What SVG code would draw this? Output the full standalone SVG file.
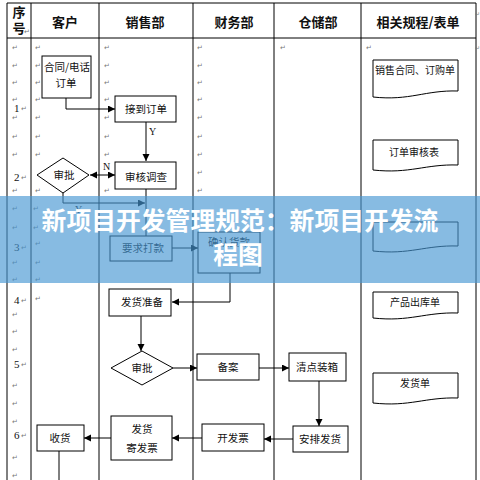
<svg xmlns="http://www.w3.org/2000/svg" width="480" height="480" viewBox="0 0 480 480">
<style>
.grid{stroke:#000;stroke-width:1;fill:none}
.hd{font-family:"Noto Sans CJK SC",sans-serif;font-size:13px;font-weight:bold;fill:#111;text-anchor:middle}
.bx{fill:#fff;stroke:#000;stroke-width:1}
.t{font-family:"Noto Sans CJK SC",sans-serif;font-size:10.5px;fill:#111;text-anchor:middle}
.doc{fill:#fff;stroke:#000;stroke-width:1}
.pm{font-family:"DejaVu Sans",sans-serif;font-size:7px;fill:#777}
.num{font-family:"Liberation Serif",serif;font-size:11px;fill:#111}
.lb{font-family:"Liberation Serif",serif;font-size:10px;fill:#111}
.cn{stroke:#000;stroke-width:1;fill:none}
.title{font-family:"Noto Sans CJK SC",sans-serif;font-size:24.8px;font-weight:bold;fill:#fff;text-anchor:middle}
</style>
<defs>
<marker id="ah" markerUnits="userSpaceOnUse" markerWidth="8" markerHeight="8" refX="7" refY="3.5" orient="auto-start-reverse">
<path d="M0,0 L7,3.5 L0,7 Z" fill="#000"/>
</marker>
</defs>
<rect width="480" height="480" fill="#fff"/>
<g id="table">
<path class="grid" d="M7,3 H476 M7,38 H476 M7,3 V480 M31,3 V480 M99,3 V480 M193,3 V480 M274,3 V480 M361,3 V480 M476,3 V480"/>
<text class="hd" x="19" y="17">序</text>
<text class="hd" x="19" y="33">号</text>
<text class="hd" x="65" y="27">客户</text>
<text class="hd" x="145" y="27">销售部</text>
<text class="hd" x="234" y="27">财务部</text>
<text class="hd" x="318" y="27">仓储部</text>
<text class="hd" x="418" y="27">相关规程/表单</text>
<text class="num" x="14" y="112">1</text>
<text class="num" x="14" y="181">2</text>
<text class="num" x="14" y="251">3</text>
<text class="num" x="14" y="304">4</text>
<text class="num" x="14" y="368">5</text>
<text class="num" x="14" y="439">6</text>
</g>
<g id="marks">
<text class="pm" x="12" y="50">↵</text><text class="pm" x="12" y="68">↵</text><text class="pm" x="12" y="85">↵</text><text class="pm" x="12" y="102">↵</text><text class="pm" x="12" y="120">↵</text><text class="pm" x="12" y="139">↵</text><text class="pm" x="12" y="157">↵</text><text class="pm" x="12" y="193">↵</text><text class="pm" x="12" y="211">↵</text><text class="pm" x="12" y="230">↵</text><text class="pm" x="12" y="265">↵</text><text class="pm" x="12" y="282">↵</text><text class="pm" x="12" y="317">↵</text><text class="pm" x="12" y="334">↵</text><text class="pm" x="12" y="352">↵</text><text class="pm" x="12" y="388">↵</text><text class="pm" x="12" y="406">↵</text><text class="pm" x="12" y="424">↵</text><text class="pm" x="12" y="460">↵</text><text class="pm" x="12" y="478">↵</text>
<text class="pm" x="21" y="111">↵</text><text class="pm" x="21" y="180">↵</text><text class="pm" x="21" y="250">↵</text><text class="pm" x="21" y="303">↵</text><text class="pm" x="21" y="367">↵</text><text class="pm" x="21" y="438">↵</text><text class="pm" x="24" y="34">↵</text>
<text class="pm" x="35" y="50">↵</text><text class="pm" x="35" y="68">↵</text><text class="pm" x="35" y="85">↵</text><text class="pm" x="35" y="102">↵</text><text class="pm" x="35" y="120">↵</text><text class="pm" x="35" y="139">↵</text><text class="pm" x="35" y="157">↵</text><text class="pm" x="35" y="193">↵</text><text class="pm" x="33" y="211">↵</text><text class="pm" x="33" y="230">↵</text><text class="pm" x="35" y="246">↵</text><text class="pm" x="35" y="265">↵</text><text class="pm" x="35" y="282">↵</text><text class="pm" x="35" y="301">↵</text>
<text class="pm" x="104" y="50">↵</text><text class="pm" x="104" y="68">↵</text><text class="pm" x="104" y="85">↵</text><text class="pm" x="104" y="102">↵</text><text class="pm" x="104" y="120">↵</text><text class="pm" x="104" y="139">↵</text><text class="pm" x="104" y="157">↵</text><text class="pm" x="104" y="193">↵</text>
<text class="pm" x="197" y="50">↵</text><text class="pm" x="197" y="68">↵</text><text class="pm" x="197" y="85">↵</text><text class="pm" x="197" y="102">↵</text><text class="pm" x="197" y="120">↵</text><text class="pm" x="197" y="139">↵</text><text class="pm" x="197" y="157">↵</text><text class="pm" x="197" y="175">↵</text><text class="pm" x="197" y="193">↵</text>
<text class="pm" x="280" y="50">↵</text><text class="pm" x="366" y="50">↵</text><text class="pm" x="480" y="16" text-anchor="end" style="font-size:6px">↵</text><text class="pm" x="480" y="50" text-anchor="end" style="font-size:6px">↵</text>
</g>
<g id="connectors">
<path class="cn" d="M66,98 V109 H115" marker-end="url(#ah)"/>
<path class="cn" d="M146,122 V161" marker-end="url(#ah)"/>
<text class="lb" x="149" y="135">Y</text>
<path class="cn" d="M90,175 H115" marker-start="url(#ah)" marker-end="url(#ah)"/>
<text class="lb" x="103" y="170">N</text>
<path class="cn" d="M146,189 V236"/>
<path class="cn" d="M63,193 V203 H145" marker-end="url(#ah)"/>
<text class="lb" x="75" y="213">Y</text>
<path class="cn" d="M172,248 H198" marker-end="url(#ah)"/>
<path class="cn" d="M230,273 V302 H172" marker-end="url(#ah)"/>
<path class="cn" d="M141,316 V351" marker-end="url(#ah)"/>
<path class="cn" d="M173,368 H197" marker-end="url(#ah)"/>
<path class="cn" d="M259,368 H289" marker-end="url(#ah)"/>
<path class="cn" d="M319,381 V426" marker-end="url(#ah)"/>
<path class="cn" d="M293,439 H264" marker-end="url(#ah)"/>
<path class="cn" d="M202,438 H172" marker-end="url(#ah)"/>
<path class="cn" d="M111,438 H84" marker-end="url(#ah)"/>
<path class="cn" d="M59,451 V480"/>
</g>
<g id="n-order"><rect class="bx" x="42" y="56" width="49" height="42"/><text class="t" x="67" y="71">合同/电话</text><text class="t" x="66" y="87">订单</text></g>
<g id="n-receive"><rect class="bx" x="115" y="96" width="61" height="26"/><text class="t" x="146" y="113">接到订单</text></g>
<g id="n-check"><rect class="bx" x="115" y="162" width="61" height="27"/><text class="t" x="146" y="181">审核调查</text></g>
<g id="n-approve1"><path class="bx" d="M63,158 L89,175 L63,193 L37,175 Z"/><text class="t" x="64" y="179">审批</text></g>
<g id="n-pay"><rect class="bx" x="110" y="236" width="62" height="25"/><text class="t" x="143" y="252">要求打款</text></g>
<g id="n-confirm"><rect class="bx" x="198" y="232" width="62" height="41"/><text class="t" x="229" y="246">确认货款</text></g>
<g id="n-prepare"><rect class="bx" x="109" y="289" width="62" height="27"/><text class="t" x="142" y="306">发货准备</text></g>
<g id="n-approve2"><path class="bx" d="M142,351 L173,368 L142,385 L111,368 Z"/><text class="t" x="142" y="372">审批</text></g>
<g id="n-file"><rect class="bx" x="197" y="354" width="62" height="26"/><text class="t" x="228" y="371">备案</text></g>
<g id="n-pack"><rect class="bx" x="289" y="353" width="57" height="28"/><text class="t" x="317" y="371">清点装箱</text></g>
<g id="n-ship"><rect class="bx" x="293" y="426" width="55" height="26"/><text class="t" x="320" y="443">安排发货</text></g>
<g id="n-invoice"><rect class="bx" x="202" y="424" width="62" height="27"/><text class="t" x="233" y="442">开发票</text></g>
<g id="n-send"><rect class="bx" x="111" y="416" width="61" height="44"/><text class="t" x="142" y="433">发货</text><text class="t" x="142" y="452">寄发票</text></g>
<g id="n-get"><rect class="bx" x="37" y="425" width="47" height="26"/><text class="t" x="60" y="442">收货</text></g>
<g id="d-contract"><path class="doc" d="M373,60 H458 V91 C425,90 410,101 373,97 Z"/><text class="t" x="415" y="74" style="font-size:10px">销售合同、订购单</text></g>
<g id="d-review"><path class="doc" d="M373,140 H458 V165 C425,164 410,174 373,170 Z"/><text class="t" x="414" y="156" style="font-size:10px">订单审核表</text></g>
<g id="d-hidden"><path class="doc" d="M373,222 H458 V246 C425,245 410,255 373,251 Z"/></g>
<g id="d-out"><path class="doc" d="M373,292 H458 V313 C425,312 410,322 373,318 Z"/><text class="t" x="415" y="306" style="font-size:10px">产品出库单</text></g>
<g id="d-ship"><path class="doc" d="M373,373 H458 V398 C425,397 410,407 373,403 Z"/><text class="t" x="415" y="387" style="font-size:10px">发货单</text></g>
<g id="banner">
<rect x="0" y="196" width="480" height="87" fill="rgb(70,150,210)" opacity="0.65"/>
<text class="title" x="240" y="230">新项目开发管理规范：新项目开发流</text>
<text class="title" x="238" y="264">程图</text>
</g>
</svg>
